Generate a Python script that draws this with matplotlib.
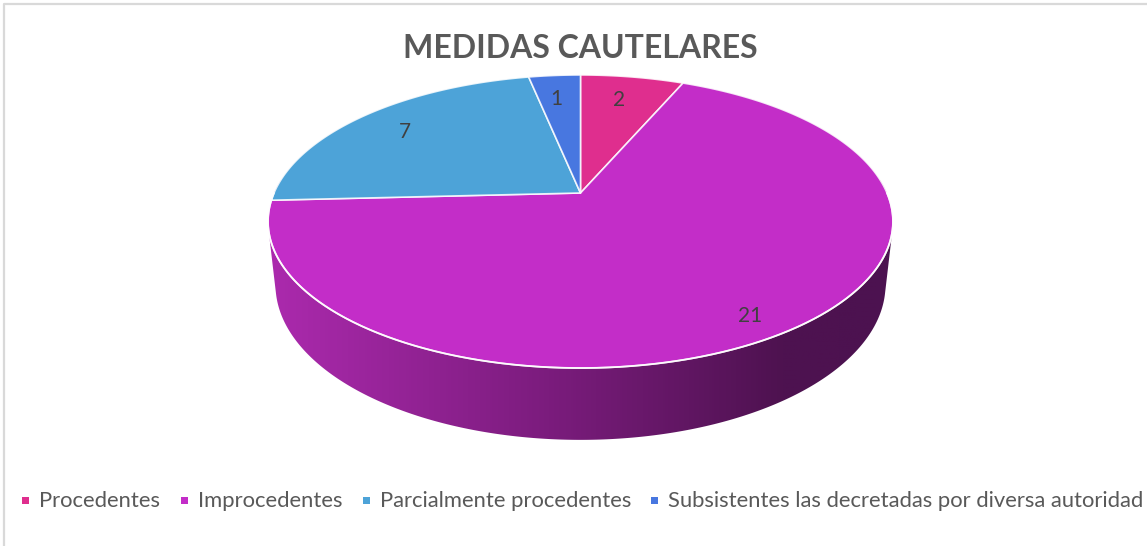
import numpy as np
import matplotlib
matplotlib.use("Agg")
import matplotlib.pyplot as plt
from matplotlib.patches import Polygon, Rectangle
from matplotlib.colors import LinearSegmentedColormap

# ---- data ----
title = "MEDIDAS CAUTELARES"
categories = ["Procedentes", "Improcedentes", "Parcialmente procedentes",
              "Subsistentes las decretadas por diversa autoridad"]
values = [2, 21, 7, 1]
colors = ["#DF2E8E", "#C32DC8", "#4DA3D8", "#4877E0"]

# ---- figure in pixel coordinates ----
W, H = 1147, 546
fig = plt.figure(figsize=(W / 100, H / 100), dpi=100)
ax = fig.add_axes([0, 0, 1, 1])
ax.set_xlim(0, W)
ax.set_ylim(H, 0)
ax.axis("off")

plt.rcParams["font.family"] = ["Lato", "DejaVu Sans"]

# chart border (top / left only visible)
ax.plot([3.5, 3.5, W], [H, 3.5, 3.5], color="#D9D9D9", lw=1.6, solid_capstyle="butt")

# ---- 3D projection of a pie (perspective) ----
cx, cy = 580.5, 193.0
elev = np.arcsin(0.46)
D = 4.566
F = 1399.5
h = 0.234


def proj(r, phi, z):
    X = r * np.cos(phi)
    Y = r * np.sin(phi)
    depth = D + Y * np.cos(elev) - z * np.sin(elev)
    vu = Y * np.sin(elev) + z * np.cos(elev)
    return cx + F * X / depth, cy - F * vu / depth


# convex hull of top + bottom ellipses -> body silhouette
phis = np.linspace(0, 2 * np.pi, 721)
tx, ty = proj(1.0, phis, 0.0)
bx, by = proj(1.0, phis, -h)
pts = np.unique(np.round(np.column_stack([np.r_[tx, bx], np.r_[ty, by]]), 4), axis=0)


def hull(p):
    p = sorted(map(tuple, p))
    def cross(o, a, b):
        return (a[0] - o[0]) * (b[1] - o[1]) - (a[1] - o[1]) * (b[0] - o[0])
    lower, upper = [], []
    for q in p:
        while len(lower) >= 2 and cross(lower[-2], lower[-1], q) <= 0:
            lower.pop()
        lower.append(q)
    for q in reversed(p):
        while len(upper) >= 2 and cross(upper[-2], upper[-1], q) <= 0:
            upper.pop()
        upper.append(q)
    return np.array(lower[:-1] + upper[:-1])


hp = hull(pts)
body = Polygon(hp, closed=True, facecolor="none", edgecolor="none")
ax.add_patch(body)

side_cmap = LinearSegmentedColormap.from_list(
    "side", [(0.0, "#AC2AAE"), (0.45, "#7B1C7D"), (0.82, "#4E1250"), (1.0, "#4C1250")])
grad = np.linspace(0, 1, 512)[None, :]
im = ax.imshow(grad, cmap=side_cmap, extent=[266, 896, 450, 180], aspect="auto",
               interpolation="bilinear", zorder=1)
im.set_clip_path(body)

# ---- top face slices (start at 12 o'clock, clockwise) ----
total = float(sum(values))
start = np.pi / 2
mids = []
for v, c in zip(values, colors):
    span = 2 * np.pi * v / total
    a = np.linspace(start, start - span, max(int(np.degrees(span) * 2), 4))
    x, y = proj(1.0, a, 0.0)
    poly = np.column_stack([np.r_[cx, x], np.r_[cy, y]])
    ax.add_patch(Polygon(poly, closed=True, facecolor=c, edgecolor=(1, 1, 1, 0.85),
                         lw=1.2, joinstyle="round", zorder=2))
    mids.append(start - span / 2)
    start -= span

# white rim along the front edge
fa = np.linspace(np.pi, 2 * np.pi, 400)
fx, fy = proj(1.0, fa, 0.0)
ax.plot(fx, fy, color="white", lw=1.3, alpha=0.9, zorder=3)

# ---- data labels ----
for v, m in zip(values, mids):
    if np.sin(m) < 0:
        lx, ly = proj(0.84, m, 0.0)
        ly += 11
    else:
        lx, ly = proj(0.78, m, 0.0)
        lx -= 3
        ly += 1
    ax.text(lx, ly, str(v), ha="center", va="center", fontsize=15,
            color="#404040", zorder=4)

# ---- title ----
ax.text(580, 49, title, ha="center", va="center", fontsize=23,
        fontweight="bold", color="#595959")

# ---- legend (manual, single row) ----
leg_x = [25, 184, 366, 654]
for xx, lab, c in zip(leg_x, categories, colors):
    ax.add_patch(Rectangle((xx - 3.5, 497), 7, 7, facecolor=c, edgecolor="none"))
    ax.text(xx + 14, 501, lab, ha="left", va="center", fontsize=15.8, color="#595959")

fig.savefig("out.png", dpi=100)
